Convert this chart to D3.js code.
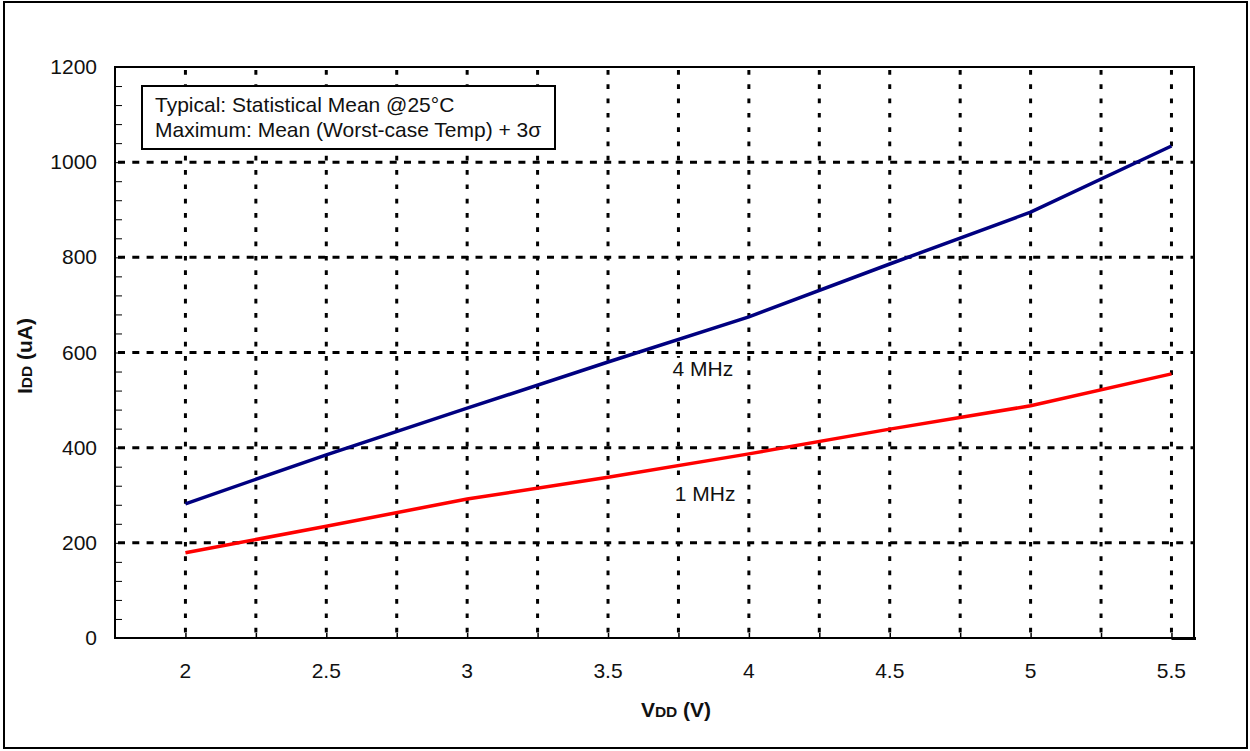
<!DOCTYPE html>
<html>
<head>
<meta charset="utf-8">
<script src="https://cdn.jsdelivr.net/npm/d3@7"></script>
<style>
  html, body { margin: 0; padding: 0; background: #fff; }
  svg { display: block; font-family: "Liberation Sans", Arial, sans-serif; }
</style>
</head>
<body>
<svg id="chart" width="1250" height="751"></svg>
<script>
const vdd = [2, 2.5, 3, 3.5, 4, 4.5, 5, 5.5];
const idd4MHz = [282, 385, 483, 580, 675, 786, 895, 1034];
const idd1MHz = [179, 235, 292, 338, 387, 439, 488, 555];
const xTickValues = [2, 2.5, 3, 3.5, 4, 4.5, 5, 5.5];
const yTickValues = [0, 200, 400, 600, 800, 1000, 1200];
const xGridValues = [2, 2.25, 2.5, 2.75, 3, 3.25, 3.5, 3.75, 4, 4.25, 4.5, 4.75, 5, 5.25, 5.5];
const yGridValues = [200, 400, 600, 800, 1000];
const seriesNames = ["4 MHz", "1 MHz"];
const noteLines = ["Typical: Statistical Mean @25°C", "Maximum: Mean (Worst-case Temp) + 3σ"];

const svg = d3.select("#chart");
const L = 115, R = 1194, T = 67, B = 638;
const x = d3.scaleLinear().domain([1.75, 5.58]).range([L, R]);
const y = d3.scaleLinear().domain([0, 1200]).range([B, T]);
const FS = 21;

// outer border
svg.append("rect").attr("x", 4).attr("y", 2).attr("width", 1243).attr("height", 746)
  .attr("fill", "none").attr("stroke", "#000").attr("stroke-width", 2);

// grid
svg.append("g").selectAll("line").data(xGridValues).join("line")
  .attr("x1", d => x(d)).attr("x2", d => x(d)).attr("y1", T).attr("y2", B)
  .attr("stroke", "#000").attr("stroke-width", 3).attr("stroke-dasharray", "4.7,9.6")
  .attr("stroke-dashoffset", -3);
svg.append("g").selectAll("line").data(yGridValues).join("line")
  .attr("x1", L).attr("x2", R).attr("y1", d => y(d)).attr("y2", d => y(d))
  .attr("stroke", "#000").attr("stroke-width", 3).attr("stroke-dasharray", "7,7.3")
  .attr("stroke-dashoffset", -3);

// frame lines
svg.append("line").attr("x1", L).attr("x2", R + 1).attr("y1", T).attr("y2", T).attr("stroke", "#000").attr("stroke-width", 2);
svg.append("line").attr("x1", R).attr("x2", R).attr("y1", T).attr("y2", B).attr("stroke", "#000").attr("stroke-width", 2);

// y axis with minor ticks (inside)
const yAxis = d3.axisLeft(y).tickValues(d3.range(0, 1201, 40)).tickSize(-7).tickFormat("");
const gy = svg.append("g").attr("transform", `translate(${L},0)`).call(yAxis);
gy.select(".domain").attr("stroke-width", 2).attr("d", `M0,${B + 1}V${T - 1}`);
gy.selectAll(".tick line").attr("stroke-width", 1);

// x axis minor ticks
const xAxis = d3.axisBottom(x).tickValues(xGridValues).tickSize(-5).tickFormat("");
const gx = svg.append("g").attr("transform", `translate(0,${B})`).call(xAxis);
gx.select(".domain").attr("stroke-width", 2).attr("d", `M${L - 1},0H${R + 2}`);
gx.selectAll(".tick line").attr("stroke-width", 1.5);
svg.append("line").attr("x1", x(5.5)).attr("x2", R + 2).attr("y1", B + 0.5).attr("y2", B + 0.5)
  .attr("stroke", "#000").attr("stroke-width", 3);

// tick labels
svg.append("g").selectAll("text").data(yTickValues).join("text")
  .attr("x", 97).attr("y", d => y(d) + 7).attr("text-anchor", "end")
  .attr("font-size", FS).attr("fill", "#111").text(d => d);
svg.append("g").selectAll("text").data(xTickValues).join("text")
  .attr("x", d => x(d)).attr("y", 678).attr("text-anchor", "middle")
  .attr("font-size", FS).attr("fill", "#111").text(d => d);

// lines
const line = d3.line().x(d => x(d[0])).y(d => y(d[1]));
svg.append("path").datum(vdd.map((v, i) => [v, idd4MHz[i]]))
  .attr("d", line).attr("fill", "none").attr("stroke", "#000080").attr("stroke-width", 3.5);
svg.append("path").datum(vdd.map((v, i) => [v, idd1MHz[i]]))
  .attr("d", line).attr("fill", "none").attr("stroke", "#ff0000").attr("stroke-width", 3.5);

// series labels with white backing
const labelPos = [[3.837, 551], [3.845, 288]];
seriesNames.forEach((name, i) => {
  const g = svg.append("g");
  const t = g.append("text").attr("x", x(labelPos[i][0])).attr("y", y(labelPos[i][1]))
    .attr("text-anchor", "middle").attr("font-size", FS).attr("fill", "#111").text(name);
  const bb = t.node().getBBox();
  g.insert("rect", "text").attr("x", bb.x - 2).attr("y", bb.y + 1).attr("width", bb.width + 4)
    .attr("height", bb.height - 2).attr("fill", "#fff");
});

// note box
svg.append("rect").attr("x", 142).attr("y", 86).attr("width", 413).attr("height", 63)
  .attr("fill", "#fff").attr("stroke", "#000").attr("stroke-width", 2);
svg.append("g").selectAll("text").data(noteLines).join("text")
  .attr("x", 155).attr("y", (d, i) => 112 + i * 24.5)
  .attr("font-size", FS).attr("fill", "#111").text(d => d);

// axis titles
const xt = svg.append("text").attr("x", 676).attr("y", 717).attr("text-anchor", "middle")
  .attr("font-weight", "bold").attr("font-size", FS).attr("fill", "#111");
xt.append("tspan").text("V");
xt.append("tspan").attr("font-size", 15.5).text("DD");
xt.append("tspan").text(" (V)");

const yt = svg.append("text").attr("transform", "translate(32,356) rotate(-90)").attr("text-anchor", "middle")
  .attr("font-weight", "bold").attr("font-size", FS).attr("fill", "#111");
yt.append("tspan").text("I");
yt.append("tspan").attr("font-size", 15.5).text("DD");
yt.append("tspan").text(" (uA)");
</script>
</body>
</html>
